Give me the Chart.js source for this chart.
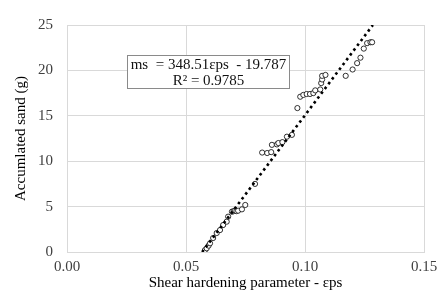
<!DOCTYPE html>
<html>
<head>
<meta charset="utf-8">
<script src="https://cdn.jsdelivr.net/npm/chart.js@4/dist/chart.umd.min.js"></script>
<style>
  html, body { margin: 0; padding: 0; background: #ffffff; }
  #wrap { width: 446px; height: 292px; position: relative; }
</style>
</head>
<body>
<div id="wrap"><canvas id="c" width="446" height="292"></canvas></div>
<script>
// ---- data ----
const epsValues = [
  0.0580, 0.0587, 0.0595, 0.0601, 0.0614, 0.0629, 0.0643, 0.0656, 0.0671, 0.0677,
  0.0693, 0.0700, 0.0706, 0.0712, 0.0719, 0.0735, 0.0749, 0.0790, 0.0820, 0.0841,
  0.0858, 0.0861, 0.0882, 0.0888, 0.0905, 0.0924, 0.0945, 0.0968, 0.0980, 0.0993,
  0.1007, 0.1021, 0.1035, 0.1043, 0.1064, 0.1068, 0.1072, 0.1072, 0.1086, 0.1171,
  0.1200, 0.1219, 0.1233, 0.1247, 0.1261, 0.1275, 0.1282
];
const sandValues = [
  0.22, 0.41, 0.70, 0.96, 1.54, 2.09, 2.42, 2.97, 3.34, 3.89,
  4.44, 4.50, 4.55, 4.50, 4.55, 4.70, 5.18, 7.50, 10.95, 10.90,
  11.00, 11.80, 11.85, 12.00, 12.10, 12.70, 12.90, 15.85, 17.10, 17.30,
  17.40, 17.40, 17.50, 17.80, 17.90, 18.60, 19.00, 19.40, 19.50, 19.40,
  20.10, 20.80, 21.40, 22.40, 23.00, 23.10, 23.10
];
const trendSlope = 348.51;
const trendIntercept = -19.787;
const trendRSquared = 0.9785;
const xTicks = [0, 0.05, 0.10, 0.15];
const yTicks = [0, 5, 10, 15, 20, 25];
const xTitle = 'Shear hardening parameter - εps';
const yTitle = 'Accumlated sand (g)';
const equationLines = ['ms  = 348.51εps  - 19.787', 'R² = 0.9785'];

// ---- build datasets ----
const points = epsValues.map((x, i) => ({ x: x, y: sandValues[i] }));
const yLow = yTicks[0], yHigh = yTicks[yTicks.length - 1];
const trend = [
  { x: (yLow - trendIntercept) / trendSlope, y: yLow },
  { x: (yHigh - trendIntercept) / trendSlope, y: yHigh }
];

const FONT = "'Liberation Serif', 'Times New Roman', serif";

const eqBox = {
  id: 'eqBox',
  afterDatasetsDraw(chart) {
    const { ctx, chartArea } = chart;
    const left = chartArea.left + 60, top = chartArea.top + 30;
    const w = 162, h = 33;
    ctx.save();
    ctx.fillStyle = '#ffffff';
    ctx.fillRect(left, top, w, h);
    ctx.strokeStyle = '#8a8a8a';
    ctx.lineWidth = 1;
    ctx.strokeRect(left + 0.5, top + 0.5, w, h);
    ctx.fillStyle = '#111111';
    ctx.font = '15px ' + FONT;
    ctx.textAlign = 'center';
    ctx.textBaseline = 'middle';
    ctx.fillText(equationLines[0], left + w / 2 + 0.5, top + 10.5);
    ctx.fillText(equationLines[1], left + w / 2 + 0.5, top + 26);
    ctx.restore();
  }
};

new Chart(document.getElementById('c'), {
  type: 'scatter',
  data: {
    datasets: [
      {
        label: 'data',
        data: points,
        pointStyle: 'circle',
        pointRadius: 2.6,
        pointBackgroundColor: '#ffffff',
        pointBorderColor: '#000000',
        pointBorderWidth: 0.8,
        showLine: false,
        order: 2
      },
      {
        label: 'trend',
        type: 'line',
        data: trend,
        borderColor: '#000000',
        borderWidth: 2.6,
        borderDash: [2.6, 3.4],
        pointRadius: 0,
        fill: false,
        order: 1
      }
    ]
  },
  plugins: [eqBox],
  options: {
    responsive: false,
    animation: false,
    events: [],
    layout: { padding: { top: 25, right: 22, left: 0, bottom: 0 } },
    plugins: { legend: { display: false }, tooltip: { enabled: false } },
    scales: {
      x: {
        type: 'linear',
        min: xTicks[0],
        max: xTicks[xTicks.length - 1],
        afterBuildTicks: (s) => { s.ticks = xTicks.map(v => ({ value: v })); },
        afterFit: (s) => { s.height = 40; },
        ticks: {
          callback: (v) => Number(v).toFixed(2),
          font: { family: FONT, size: 15 },
          color: '#404040',
          padding: 6,
          maxRotation: 0
        },
        grid: { color: '#d9d9d9', drawTicks: false, lineWidth: 1 },
        border: { display: true, color: '#d9d9d9' },
        title: {
          display: true,
          text: xTitle,
          font: { family: FONT, size: 15, lineHeight: 1.2 },
          color: '#000000',
          padding: { top: 0, bottom: 0 }
        }
      },
      y: {
        type: 'linear',
        min: yLow,
        max: yHigh,
        afterBuildTicks: (s) => { s.ticks = yTicks.map(v => ({ value: v })); },
        afterFit: (s) => { s.width = 67; },
        ticks: {
          font: { family: FONT, size: 15 },
          color: '#404040',
          padding: 14
        },
        grid: { color: '#d9d9d9', drawTicks: false, lineWidth: 1 },
        border: { display: true, color: '#d9d9d9' },
        title: {
          display: true,
          text: yTitle,
          font: { family: FONT, size: 15, lineHeight: 1.2 },
          color: '#000000',
          padding: { top: 12, bottom: 0 }
        }
      }
    }
  }
});
</script>
</body>
</html>
